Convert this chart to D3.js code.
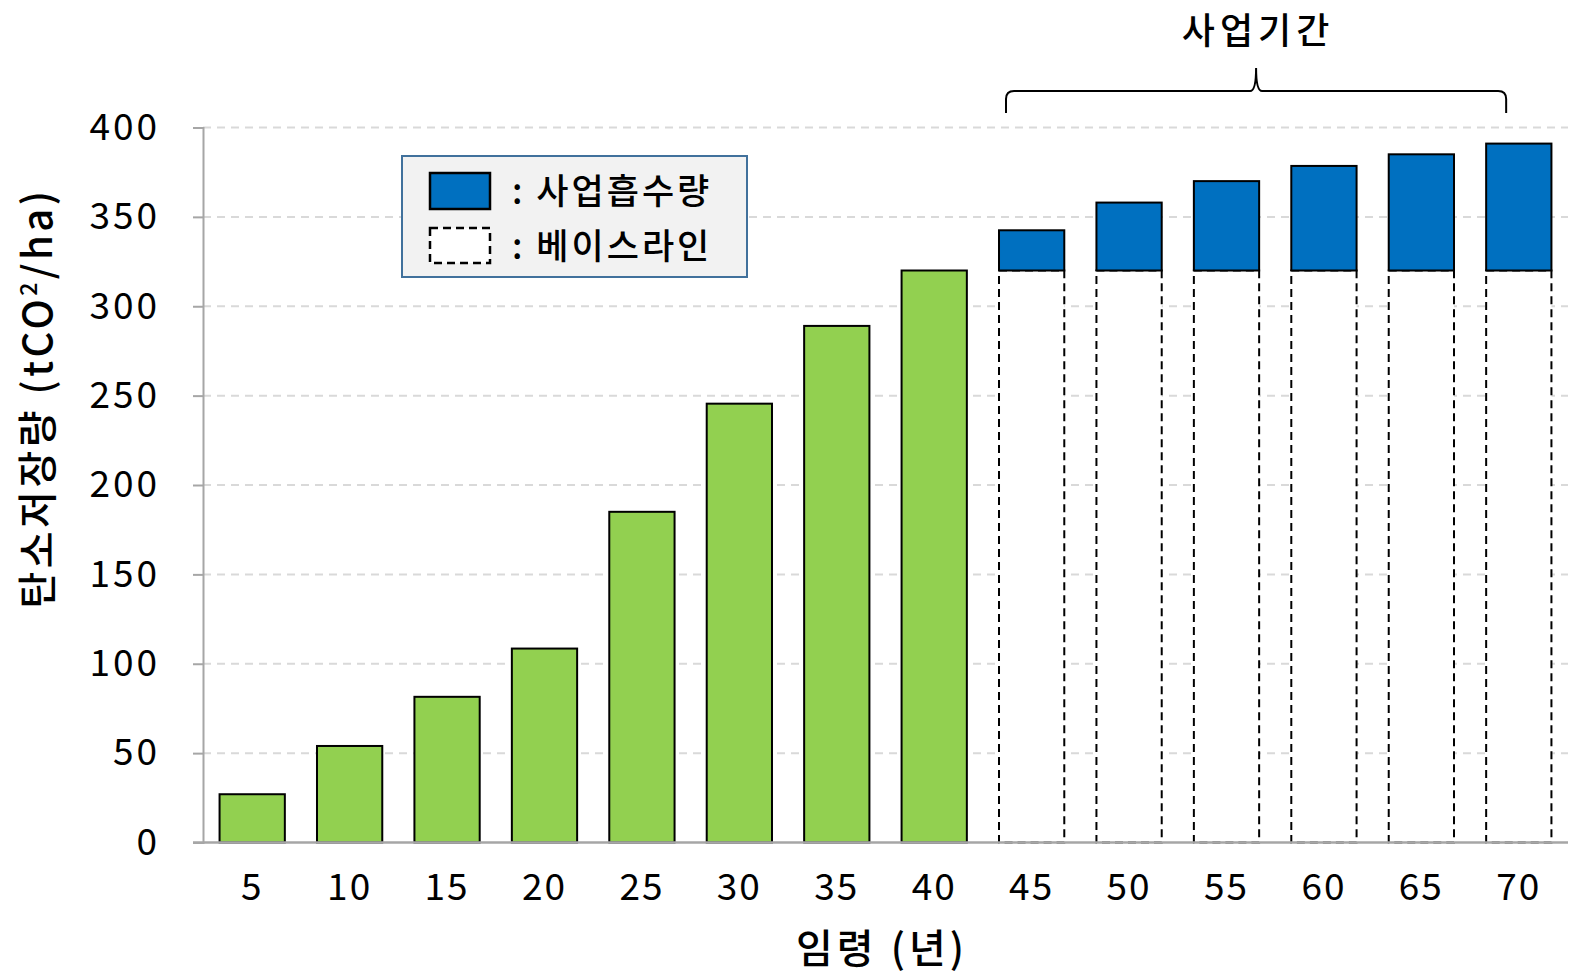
<!DOCTYPE html>
<html><head><meta charset="utf-8">
<script src="https://cdn.jsdelivr.net/npm/d3@7"></script>
<style>
html,body{margin:0;padding:0;background:#fff;}
text{font-family:"Noto Sans CJK KR","Noto Sans",sans-serif;fill:#000;}
</style></head>
<body>
<svg id="chart" width="1570" height="976"></svg>
<script>
const categories = ["5","10","15","20","25","30","35","40","45","50","55","60","65","70"];
const growthValues = [27, 54, 81.5, 108.5, 185, 245.5, 289, 320, null, null, null, null, null, null];
const baselineValues = [null, null, null, null, null, null, null, null, 320, 320, 320, 320, 320, 320];
const projectValues = [null, null, null, null, null, null, null, null, 342.5, 358, 370, 378.5, 385, 391];
const yTicks = [0, 50, 100, 150, 200, 250, 300, 350, 400];
const legendLabels = [": 사업흡수량", ": 베이스라인"];
const periodLabel = "사업기간";
const xTitle = "임령 (년)";

const svg = d3.select("#chart");
const x = d3.scaleBand().domain(categories).range([203, 1568]).paddingInner(0.33).paddingOuter(0.17);
const y = d3.scaleLinear().domain([0, 400]).range([842.5, 127.5]);

// gridlines
svg.append("g").selectAll("line").data(yTicks.filter(d => d > 0)).join("line")
  .attr("x1", 203).attr("x2", 1568)
  .attr("y1", d => y(d)).attr("y2", d => y(d))
  .attr("stroke", "#d9d9d9").attr("stroke-width", 2).attr("stroke-dasharray", "8,6");

// y axis
const yAxis = svg.append("g").attr("transform", "translate(203,0)")
  .call(d3.axisLeft(y).tickValues(yTicks).tickSize(10).tickPadding(33));
yAxis.select(".domain").attr("stroke", "#a6a6a6").attr("stroke-width", 2);
yAxis.selectAll(".tick line").attr("stroke", "#a6a6a6").attr("stroke-width", 2);
yAxis.selectAll(".tick text").attr("font-size", 37).attr("letter-spacing", 3)
  .attr("font-family", "Noto Sans CJK KR").attr("fill", "#000");

// bars: growth (green)
svg.append("g").selectAll("rect").data(categories.map((c, i) => ({c, v: growthValues[i]})).filter(d => d.v != null))
  .join("rect")
  .attr("x", d => x(d.c)).attr("width", x.bandwidth())
  .attr("y", d => y(d.v)).attr("height", d => y(0) - y(d.v))
  .attr("fill", "#92d050").attr("stroke", "#000").attr("stroke-width", 2);

// baseline (dashed)
svg.append("g").selectAll("rect").data(categories.map((c, i) => ({c, v: baselineValues[i]})).filter(d => d.v != null))
  .join("rect")
  .attr("x", d => x(d.c)).attr("width", x.bandwidth())
  .attr("y", d => y(d.v)).attr("height", d => y(0) - y(d.v))
  .attr("fill", "#fff").attr("stroke", "#000").attr("stroke-width", 2).attr("stroke-dasharray", "8,5");

// project (blue)
svg.append("g").selectAll("rect").data(categories.map((c, i) => ({c, v: projectValues[i], b: baselineValues[i]})).filter(d => d.v != null))
  .join("rect")
  .attr("x", d => x(d.c)).attr("width", x.bandwidth())
  .attr("y", d => y(d.v)).attr("height", d => y(d.b) - y(d.v))
  .attr("fill", "#0070c0").attr("stroke", "#000").attr("stroke-width", 2);

// x axis
const xAxis = svg.append("g").attr("transform", `translate(0,${y(0)})`)
  .call(d3.axisBottom(x).tickSize(0).tickPadding(31));
xAxis.select(".domain").remove();
svg.append("line").attr("x1", 193).attr("x2", 1568).attr("y1", y(0)).attr("y2", y(0))
  .attr("stroke", "#a6a6a6").attr("stroke-width", 2.5);
xAxis.selectAll(".tick text").attr("font-size", 37).attr("letter-spacing", 2)
  .attr("font-family", "Noto Sans CJK KR").attr("fill", "#000");

// axis titles
svg.append("text").attr("x", 882).attr("y", 963).attr("text-anchor", "middle")
  .attr("font-size", 40).attr("font-weight", 500).attr("letter-spacing", 4).text(xTitle);

const yt = svg.append("text").attr("transform", "translate(52,398) rotate(-90)").attr("text-anchor", "middle")
  .attr("font-size", 40).attr("font-weight", 500).attr("letter-spacing", 3.5);
yt.append("tspan").text("탄소저장량 (tCO");
yt.append("tspan").attr("font-size", 23).attr("dy", -15).text("2");
yt.append("tspan").attr("dy", 15).text("/ha)");

// brace for project period
const bx0 = x("45") + 7, bx1 = x("70") + 20, bm = (bx0 + bx1) / 2;
const by = 91, bTop = 68, bBot = 113;
svg.append("path")
  .attr("d", `M${bx0},${bBot} L${bx0},${by+8} Q${bx0},${by} ${bx0+8},${by} L${bm-6},${by} Q${bm},${by} ${bm},${bTop} Q${bm},${by} ${bm+6},${by} L${bx1-8},${by} Q${bx1},${by} ${bx1},${by+8} L${bx1},${bBot}`)
  .attr("fill", "none").attr("stroke", "#000").attr("stroke-width", 2);
svg.append("text").attr("x", bm + 2).attr("y", 44).attr("text-anchor", "middle")
  .attr("font-size", 36).attr("font-weight", 500).attr("letter-spacing", 5).text(periodLabel);

// legend
const lg = svg.append("g");
lg.append("rect").attr("x", 402).attr("y", 156).attr("width", 345).attr("height", 121)
  .attr("fill", "#f2f2f2").attr("stroke", "#41719c").attr("stroke-width", 2);
lg.append("rect").attr("x", 430).attr("y", 173).attr("width", 60).attr("height", 36)
  .attr("fill", "#0070c0").attr("stroke", "#000").attr("stroke-width", 2.5);
lg.append("rect").attr("x", 430).attr("y", 228).attr("width", 60).attr("height", 35)
  .attr("fill", "#fff").attr("stroke", "#000").attr("stroke-width", 2.5).attr("stroke-dasharray", "8,5");
lg.selectAll("text.l").data(legendLabels).join("text").attr("class", "l")
  .attr("x", 512).attr("y", (d, i) => 204 + i * 55)
  .attr("font-size", 35).attr("font-weight", 500).attr("letter-spacing", 3).text(d => d);
</script>
</body></html>
